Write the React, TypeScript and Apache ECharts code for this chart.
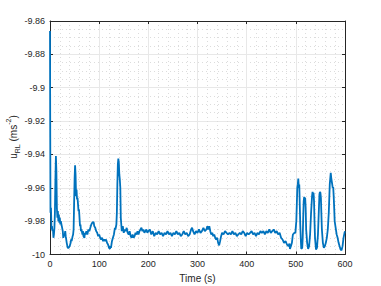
import React, { useEffect, useRef } from 'react';
import * as echarts from 'echarts';

// Time samples (s)
const times: number[] = [
  0, 0.5, 1, 2, 3, 4, 5, 6, 7, 8, 9, 10, 11, 12, 13, 14, 15, 16, 17, 18, 19, 20, 21, 22, 24, 26, 27, 28, 30, 31, 32, 34, 36, 38, 40, 42, 43, 44, 46, 47, 48, 49,
  50, 51, 52, 53, 54, 55, 56, 57, 58, 59, 60, 61, 62, 63, 64, 66, 67, 68, 70, 71, 72, 74, 76, 78, 80, 82, 84, 86, 88, 89, 90, 92, 94, 96, 98,
  100, 102, 104, 106, 108, 110, 112, 114, 116, 118, 120, 122, 123, 124, 126, 128, 130, 132, 133, 135, 136, 137, 138, 139, 140, 141, 142, 143, 144, 145, 146, 148,
  150, 152, 154, 156, 158, 160, 162, 164, 166, 168, 170, 172, 174, 176, 178, 180, 182, 184, 186, 188, 190, 192, 194, 196, 198,
  200, 203, 206, 209, 212, 215, 218, 221, 224, 227, 230, 233, 236, 239, 242, 245, 248, 251, 254, 257, 260, 263, 266, 269, 272, 275, 278, 281, 284, 287, 289, 291, 294, 297,
  300, 303, 306, 309, 312, 315, 318, 320, 322, 324, 326, 328, 330, 332, 334, 336, 338, 340, 342, 344, 346, 348, 350, 353, 356, 359, 362, 365, 368, 371, 374, 377, 380, 383, 386, 389, 392, 395, 398,
  401, 404, 407, 410, 413, 416, 419, 422, 425, 428, 431, 434, 437, 440, 443, 446, 449, 452, 455, 458, 461, 464, 467, 470, 473, 476, 479, 482, 485, 487, 488, 490, 492, 494, 497, 499,
  501, 502, 503, 504, 505, 506, 507, 508, 509, 510, 511, 513, 514, 515, 516, 517, 518, 519, 520, 521, 523, 525, 527, 529, 531, 533, 534, 535, 536, 537, 538, 539, 541, 543, 545, 547, 548, 549,
  550, 551, 552, 553, 555, 557, 559, 561, 563, 565, 567, 569, 571, 572, 573, 574, 575, 576, 577, 578, 579, 581, 583, 585, 587, 589, 591, 593, 595, 597, 599, 600,
];

// Acceleration u_RL (m s^-2)
const accel: number[] = [
  -9.866, -9.93, -9.975, -9.972, -9.985, -9.983, -9.986, -9.985, -9.99, -9.988, -9.984, -9.975, -9.955, -9.941, -9.95, -9.972, -9.978, -9.974, -9.98, -9.976, -9.981, -9.978, -9.982, -9.98, -9.983, -9.986, -9.99, -9.989, -9.988, -9.986, -9.989, -9.993, -9.996, -9.996, -9.995, -9.993, -9.991, -9.992, -9.989, -9.988, -9.985, -9.97,
  -9.955, -9.9465, -9.952, -9.965, -9.961, -9.967, -9.966, -9.97, -9.974, -9.973, -9.978, -9.983, -9.982, -9.986, -9.985, -9.988, -9.986, -9.989, -9.99, -9.987, -9.988, -9.986, -9.988, -9.985, -9.986, -9.984, -9.982, -9.981, -9.9805, -9.981, -9.983, -9.984, -9.986, -9.987, -9.989,
  -9.988, -9.99, -9.991, -9.99, -9.992, -9.991, -9.992, -9.991, -9.993, -9.994, -9.996, -9.9966, -9.995, -9.996, -9.992, -9.99, -9.988, -9.984, -9.985, -9.982, -9.975, -9.958, -9.946, -9.9425, -9.945, -9.952, -9.955, -9.96, -9.978, -9.982, -9.986, -9.983,
  -9.987, -9.985, -9.986, -9.984, -9.987, -9.988, -9.986, -9.989, -9.99, -9.988, -9.99, -9.989, -9.987, -9.988, -9.986, -9.988, -9.986, -9.985, -9.984, -9.986, -9.985, -9.987, -9.986, -9.985, -9.987,
  -9.986, -9.985, -9.988, -9.986, -9.989, -9.987, -9.988, -9.986, -9.988, -9.987, -9.989, -9.987, -9.988, -9.986, -9.988, -9.987, -9.989, -9.987, -9.988, -9.986, -9.988, -9.987, -9.989, -9.988, -9.986, -9.988, -9.987, -9.989, -9.988, -9.985, -9.984, -9.986, -9.988, -9.986,
  -9.987, -9.985, -9.987, -9.986, -9.984, -9.986, -9.985, -9.983, -9.985, -9.983, -9.986, -9.988, -9.987, -9.989, -9.988, -9.99, -9.991, -9.99, -9.993, -9.9945, -9.992, -9.989, -9.987, -9.988, -9.986, -9.987, -9.988, -9.987, -9.988, -9.986, -9.988, -9.987, -9.989, -9.988, -9.987, -9.988, -9.986, -9.987, -9.989,
  -9.987, -9.988, -9.987, -9.986, -9.988, -9.987, -9.989, -9.987, -9.988, -9.986, -9.987, -9.986, -9.988, -9.986, -9.987, -9.985, -9.987, -9.986, -9.985, -9.987, -9.986, -9.988, -9.987, -9.99, -9.991, -9.993, -9.992, -9.994, -9.995, -9.9935, -9.9966, -9.995, -9.993, -9.988, -9.987, -9.987,
  -9.98, -9.97, -9.96, -9.958, -9.9545, -9.96, -9.958, -9.97, -9.982, -9.99, -9.9966, -9.996, -9.99, -9.978, -9.968, -9.9655, -9.967, -9.966, -9.972, -9.985, -9.993, -9.9966, -9.995, -9.988, -9.975, -9.965, -9.9625, -9.964, -9.963, -9.968, -9.98, -9.99, -9.997, -9.996, -9.988, -9.972, -9.964, -9.9625,
  -9.963, -9.966, -9.976, -9.985, -9.993, -9.996, -9.995, -9.993, -9.99, -9.985, -9.975, -9.958, -9.951, -9.954, -9.956, -9.958, -9.96, -9.9595, -9.965, -9.972, -9.98, -9.984, -9.988, -9.99, -9.993, -9.995, -9.997, -9.9975, -9.995, -9.99, -9.987, -9.986,
];

const xMin = 0;
const xMax = 600;
const xStep = 100;
const yMin = -10;
const yMax = -9.86;
const yStep = 0.02;

const xTitle = 'Time (s)';
const yTitleParts = ['u', 'RL', ' (ms', '-2', ')'];

const FONT = 'Liberation Sans, Arial, Helvetica, sans-serif';
const AXIS_COLOR = '#262626';

export default function App() {
  const ref = useRef<HTMLDivElement>(null);

  useEffect(() => {
    if (!ref.current) return;
    const chart = echarts.init(ref.current, undefined, { renderer: 'svg' });
    const data = times.map((t, i) => [t, accel[i]]);

    const majorSplit = { show: true, lineStyle: { color: '#e8e8e8', width: 1, type: 'solid' as const } };
    const minorSplit = { show: true, lineStyle: { color: '#dcdcdc', width: 1, type: [1, 3] as any } };

    const fmtY = (v: number) => String(parseFloat(v.toFixed(2)));

    chart.setOption({
      animation: false,
      backgroundColor: '#ffffff',
      grid: { left: 50, right: 36, top: 21, bottom: 31.5, containLabel: false, outerBoundsMode: 'none' },
      graphic: [
        {
          type: 'text',
          x: 13,
          y: 137,
          rotation: Math.PI / 2,
          silent: true,
          style: {
            text: `{n|${yTitleParts[0]}}{sub|${yTitleParts[1]}}{n|${yTitleParts[2]}}{sup|${yTitleParts[3]}}{n|${yTitleParts[4]}}`,
            align: 'center',
            verticalAlign: 'middle',
            fill: AXIS_COLOR,
            font: `10px ${FONT}`,
            rich: {
              n: { fontFamily: FONT, fontSize: 10, fill: AXIS_COLOR, lineHeight: 16 },
              sub: { fontFamily: FONT, fontSize: 7, fill: AXIS_COLOR, verticalAlign: 'bottom' },
              sup: { fontFamily: FONT, fontSize: 7, fill: AXIS_COLOR, verticalAlign: 'top' },
            },
          },
        },
      ],
      xAxis: [
        {
          type: 'value',
          min: xMin,
          max: xMax,
          interval: xStep,
          name: xTitle,
          nameLocation: 'middle',
          nameGap: 17,
          nameTextStyle: { fontFamily: FONT, fontSize: 10, color: AXIS_COLOR },
          axisLine: { show: true, onZero: false, lineStyle: { color: AXIS_COLOR, width: 1 } },
          axisTick: { show: true, inside: true, length: 3, lineStyle: { color: AXIS_COLOR } },
          axisLabel: { show: true, margin: 5, fontFamily: FONT, fontSize: 9, color: AXIS_COLOR },
          splitLine: majorSplit,
          minorTick: { show: false, splitNumber: 5 },
          minorSplitLine: minorSplit,
        },
        {
          type: 'value',
          position: 'top',
          min: xMin,
          max: xMax,
          interval: xStep,
          axisLine: { show: true, onZero: false, lineStyle: { color: AXIS_COLOR, width: 1 } },
          axisTick: { show: true, inside: true, length: 3, lineStyle: { color: AXIS_COLOR } },
          axisLabel: { show: false },
          splitLine: { show: false },
        },
      ],
      yAxis: [
        {
          type: 'value',
          min: yMin,
          max: yMax,
          interval: yStep,
          axisLine: { show: true, onZero: false, lineStyle: { color: AXIS_COLOR, width: 1 } },
          axisTick: { show: true, inside: true, length: 3, lineStyle: { color: AXIS_COLOR } },
          axisLabel: { show: true, margin: 5, fontFamily: FONT, fontSize: 9, color: AXIS_COLOR, formatter: fmtY },
          splitLine: majorSplit,
          minorTick: { show: false, splitNumber: 4 },
          minorSplitLine: minorSplit,
        },
        {
          type: 'value',
          position: 'right',
          min: yMin,
          max: yMax,
          interval: yStep,
          axisLine: { show: true, onZero: false, lineStyle: { color: AXIS_COLOR, width: 1 } },
          axisTick: { show: true, inside: true, length: 3, lineStyle: { color: AXIS_COLOR } },
          axisLabel: { show: false },
          splitLine: { show: false },
        },
      ],
      series: [
        {
          type: 'line',
          xAxisIndex: 0,
          yAxisIndex: 0,
          data,
          showSymbol: false,
          symbol: 'none',
          lineStyle: { color: '#0072BD', width: 1.8 },
          clip: true,
        },
      ],
    });

    return () => chart.dispose();
  }, []);

  return (
    <div
      ref={ref}
      style={{ position: 'fixed', left: 0, top: 0, width: 381, height: 286, background: '#fff' }}
    />
  );
}
